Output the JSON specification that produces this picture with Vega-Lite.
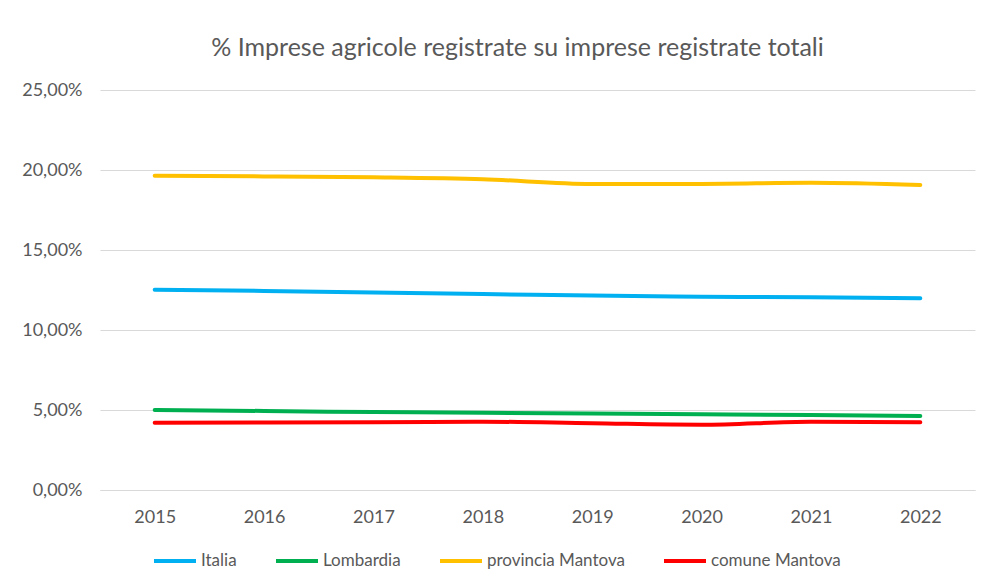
{
  "$schema": "https://vega.github.io/schema/vega-lite/v6.json",
  "autosize": {"type": "none"},
  "width": 875,
  "height": 400,
  "padding": {"left": 100, "top": 90, "right": 12, "bottom": 97},
  "background": "white",
  "title": {
    "text": "% Imprese agricole registrate su imprese registrate totali",
    "font": "Lato",
    "fontSize": 25,
    "fontWeight": "normal",
    "color": "#595959",
    "anchor": "middle",
    "dx": -20,
    "offset": 20
  },
  "data": {
    "values": [
      {"anno": "2015", "serie": "Italia", "valore": 12.52},
      {"anno": "2016", "serie": "Italia", "valore": 12.44},
      {"anno": "2017", "serie": "Italia", "valore": 12.35},
      {"anno": "2018", "serie": "Italia", "valore": 12.25},
      {"anno": "2019", "serie": "Italia", "valore": 12.15},
      {"anno": "2020", "serie": "Italia", "valore": 12.08},
      {"anno": "2021", "serie": "Italia", "valore": 12.04},
      {"anno": "2022", "serie": "Italia", "valore": 11.98},
      {"anno": "2015", "serie": "Lombardia", "valore": 5.0},
      {"anno": "2016", "serie": "Lombardia", "valore": 4.94},
      {"anno": "2017", "serie": "Lombardia", "valore": 4.87},
      {"anno": "2018", "serie": "Lombardia", "valore": 4.83},
      {"anno": "2019", "serie": "Lombardia", "valore": 4.78},
      {"anno": "2020", "serie": "Lombardia", "valore": 4.73},
      {"anno": "2021", "serie": "Lombardia", "valore": 4.69},
      {"anno": "2022", "serie": "Lombardia", "valore": 4.63},
      {"anno": "2015", "serie": "provincia Mantova", "valore": 19.64},
      {"anno": "2016", "serie": "provincia Mantova", "valore": 19.6},
      {"anno": "2017", "serie": "provincia Mantova", "valore": 19.54},
      {"anno": "2018", "serie": "provincia Mantova", "valore": 19.42},
      {"anno": "2019", "serie": "provincia Mantova", "valore": 19.13},
      {"anno": "2020", "serie": "provincia Mantova", "valore": 19.13},
      {"anno": "2021", "serie": "provincia Mantova", "valore": 19.2},
      {"anno": "2022", "serie": "provincia Mantova", "valore": 19.06},
      {"anno": "2015", "serie": "comune Mantova", "valore": 4.21},
      {"anno": "2016", "serie": "comune Mantova", "valore": 4.22},
      {"anno": "2017", "serie": "comune Mantova", "valore": 4.23},
      {"anno": "2018", "serie": "comune Mantova", "valore": 4.27},
      {"anno": "2019", "serie": "comune Mantova", "valore": 4.17},
      {"anno": "2020", "serie": "comune Mantova", "valore": 4.08},
      {"anno": "2021", "serie": "comune Mantova", "valore": 4.27},
      {"anno": "2022", "serie": "comune Mantova", "valore": 4.23}
    ]
  },
  "mark": {"type": "line", "strokeWidth": 4, "strokeCap": "round", "interpolate": "monotone"},
  "encoding": {
    "x": {
      "field": "anno",
      "type": "ordinal",
      "scale": {"type": "point", "padding": 0.5},
      "axis": {
        "title": null,
        "labelAngle": 0,
        "labelFont": "Lato",
        "labelFontSize": 18,
        "labelColor": "#595959",
        "labelPadding": 18,
        "ticks": false,
        "domain": true,
        "domainColor": "#d9d9d9",
        "grid": false
      }
    },
    "y": {
      "field": "valore",
      "type": "quantitative",
      "scale": {"domain": [0, 25], "nice": false},
      "axis": {
        "title": null,
        "values": [0, 5, 10, 15, 20, 25],
        "labelExpr": "replace(format(datum.value, '.2f'), '.', ',') + '%'",
        "labelFont": "Lato",
        "labelFontSize": 18,
        "labelColor": "#595959",
        "labelPadding": 18,
        "ticks": false,
        "domain": false,
        "grid": true,
        "gridColor": "#d9d9d9",
        "gridWidth": 1
      }
    },
    "color": {
      "field": "serie",
      "type": "nominal",
      "sort": ["Italia", "Lombardia", "provincia Mantova", "comune Mantova"],
      "scale": {
        "domain": ["Italia", "Lombardia", "provincia Mantova", "comune Mantova"],
        "range": ["#00B0F0", "#00B050", "#FFC000", "#FF0000"]
      },
      "legend": {
        "title": null,
        "orient": "none",
        "direction": "horizontal",
        "legendX": 52,
        "legendY": 448,
        "symbolType": "stroke",
        "symbolSize": 1764,
        "symbolStrokeWidth": 4,
        "labelFont": "Lato",
        "labelFontSize": 17,
        "labelColor": "#595959",
        "labelOffset": 3,
        "columnPadding": 31
      }
    }
  },
  "config": {"view": {"stroke": null}}
}
